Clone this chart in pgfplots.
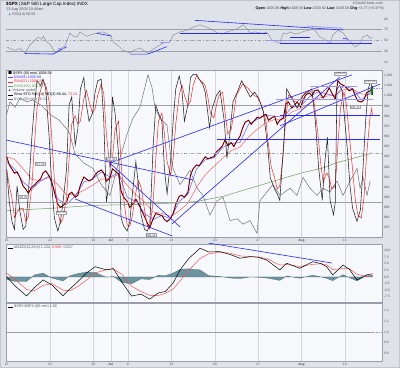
\documentclass[border=0pt]{standalone}
\usepackage{amssymb}
\usepackage{pgfplots}
\pgfplotsset{compat=1.18}
\usepgfplotslibrary{fillbetween}
\usepackage{fontspec}
\setmainfont{Liberation Sans}
\definecolor{outer}{HTML}{DFE2E8}
\definecolor{panel}{HTML}{F7F8FC}
\definecolor{gridc}{HTML}{D4D6DE}
\definecolor{frame}{HTML}{9A9EA8}
\definecolor{tickc}{HTML}{50545E}
\definecolor{rsigrey}{HTML}{8A8C98}
\definecolor{rsifill}{HTML}{6E9C92}
\definecolor{histc}{HTML}{6B94A0}
\definecolor{blueline}{HTML}{2626FF}
\definecolor{lightblue}{HTML}{9A9AF6}
\definecolor{emagreen}{HTML}{6E9E5E}
\definecolor{vixgrey}{HTML}{66666E}
\definecolor{stored}{HTML}{F02828}
\definecolor{levelc}{HTML}{9EA0A8}
\pgfplotsset{
  panelstyle/.style={scale only axis, width=376pt, xmin=-0.08, xmax=43.29,
    axis background/.style={fill=panel}, axis line style={frame, line width=0.6pt},
    xtick={0,5,10,12,14,19,24,29,34,39}, xticklabels={},
    xmajorgrids, major grid style={gridc, line width=0.4pt},
    ytick pos=right, yticklabel pos=right, tick style={draw=none},
    yticklabel style={font=\fontsize{3.3}{3.6}\selectfont, text=tickc, anchor=west, xshift=-1.5pt},
    xticklabel style={font=\fontsize{3.3}{3.6}\selectfont, text=tickc, yshift=1.2pt},
    /pgf/number format/assume math mode=true},
  ovl/.style={scale only axis, width=376pt, xmin=-0.08, xmax=43.29, hide axis},
  dates/.style={xticklabels={15,22,29,\textbf{Jul},6,13,20,27,\textbf{Aug},10}},
}
\newcommand{\lgf}{\fontsize{3.7}{4.2}\selectfont}
\pgfplotstableread{
x p
0 940
0.3 932
0.6 928
0.9 923.7
1.2 925
1.5 920
1.9 911
2.2 908
2.5 904
2.9 910
3.2 912
3.5 915
3.9 918
4.2 924
4.5 926
4.9 921
5.2 915
5.5 905
5.9 893
6.2 890
6.5 892
6.9 895
7.2 903
7.5 905
7.9 900
8.2 902
8.5 912
8.9 920
9.2 918
9.5 916
9.9 918
10.2 922
10.5 925
10.9 927
11.2 924
11.5 916
11.9 919
12.2 928
12.5 926
12.9 923
13.2 906
13.5 900
13.9 896
14.2 890
14.5 893
14.9 898
15.2 894
15.5 888
15.9 881
16.2 875
16.5 870
16.9 879
17.2 884
17.5 883
17.9 882
18.2 878
18.5 876
18.9 879
19.2 884
19.5 893
19.9 901
20.2 902
20.5 900
20.9 905
21.2 922
21.5 928
21.9 932
22.2 931
22.5 935
22.9 940
23.2 938
23.5 939
23.9 940
24.2 945
24.5 947
24.9 951
25.2 957
25.5 951
25.9 954
26.2 950
26.5 955
26.9 960
27.2 968
27.5 974
27.9 976
28.2 972
28.5 975
28.9 979
29.2 978
29.5 980
29.9 982
30.2 976
30.5 978
30.9 980
31.2 972
31.5 976
31.9 978
32.2 992
32.5 994
32.9 988
33.2 991
33.5 994
33.9 989
34.2 996
34.5 1001
34.9 1003
35.2 1000
35.5 1005
35.9 1006
36.2 1002
36.5 998
36.9 1003
37.2 1008
37.5 1003
37.9 997
38.2 1015
38.5 1012
38.9 1010
39.2 1008
39.5 1005
39.9 1007
40.2 1000
40.5 995
40.9 994
41.2 996
41.5 1003
41.9 1005
42.1 1007
42.2 1009.6
}\pricetab
\begin{document}
\begin{tikzpicture}[x=1pt,y=1pt]
\fill[outer] (0,0) rectangle (400,368);
\draw[frame!60, line width=0.8pt] (0.4,0.4) rectangle (399.6,367.6);
% header
\node[anchor=west, inner sep=0, font=\fontsize{4.6}{5}\selectfont] at (6,364) {\textbf{\$SPX} (S\&P 500 Large Cap Index) INDX};
\node[anchor=west, inner sep=0, font=\fontsize{3.8}{4.2}\selectfont, text=tickc] at (6,358) {13 Aug 2009 10:40am};
\node[anchor=east, inner sep=0, font=\fontsize{3.6}{4}\selectfont, text=tickc] at (383,365) {\textcopyright StockCharts.com};
\node[anchor=east, inner sep=0, font=\fontsize{3.7}{4.2}\selectfont] at (384,359) {\textbf{Open} {\color{tickc}1005.86} \textbf{High} {\color{tickc}1009.58} \textbf{Low} {\color{tickc}1000.82} \textbf{Last} {\color{tickc}1009.58} \textbf{Chg} {\color{tickc}+3.77 (+0.37\%)}};

% ================= RSI panel =================
\begin{axis}[panelstyle, at={(6pt,300pt)}, anchor=south west, height=56pt,
  ymin=-1.1, ymax=103, ytick={10,30,50,70,90}]
\addplot[levelc, line width=0.5pt] coordinates {(-0.08,70)(43.29,70)};
\addplot[levelc, line width=0.5pt] coordinates {(-0.08,30)(43.29,30)};
\addplot[levelc, line width=0.4pt, dash dot] coordinates {(-0.08,50)(43.29,50)};
\addplot[name path=h70, draw=none] coordinates {(-0.08,70)(43.29,70)};
\addplot[name path=h30, draw=none] coordinates {(-0.08,30)(43.29,30)};
\addplot[name path=rsi, rsigrey, line width=0.45pt] coordinates {
(0,38.4)(0.5,34)(0.96,32)(1.53,35)(2.11,27)(2.69,41.6)(3.26,51)(3.64,56)(4.04,52)(4.22,58)(4.61,48)(4.99,43)
(5.57,28)(6.1,33)(6.72,40)(7.3,64)(7.7,58)(8.1,56)(8.45,66)(9.2,58)(9.8,61)(10.4,64)(11.1,66)(11.9,60)(12.3,47)
(12.9,40)(13.4,32)(14.2,27)(14.8,33)(15.4,36)(16.3,26)(16.8,33)(17.3,38)(18.0,45)(18.8,47)(19.2,60)(20.0,66)
(20.8,69)(21.5,75)(22.3,79)(22.8,76)(23.2,74)(23.7,70)(24.3,64)(24.9,62)(25.4,66)(26.3,70)(26.8,74)(27.3,79)(27.7,72)
(28.1,64)(28.6,66)(29.0,65)(29.5,63)(30.0,66)(30.6,51)(31.0,48)(31.5,45)(31.9,64)(32.3,62)(32.7,66)(33.3,62)(33.8,64)
(34.5,68)(35.0,70)(35.3,73)(35.7,66)(36.1,57)(36.7,52)(37.3,45)(37.6,60)(38.2,69)(38.8,64)(39.4,51)(39.8,45)(40.2,38)
(40.8,45)(41.1,57)(41.6,60)(41.9,54)(42.2,56.5)};
\addplot[rsifill] fill between[of=rsi and h70, soft clip={domain y=70:103}];
\addplot[rsifill] fill between[of=rsi and h30, soft clip={domain y=-1:30}];
% annotations
\addplot[blueline, line width=0.6pt] coordinates {(2.11,25.8)(5.37,24.8)(6.92,38.4)};
\addplot[lightblue, line width=1pt] coordinates {(5.92,36)(6.72,36)};
\addplot[blueline, line width=0.6pt] coordinates {(10.38,63.3)(12.11,58.3)};
\addplot[blueline, line width=0.6pt] coordinates {(14.22,24.8)(16.3,24.8)(18.45,38.4)};
\addplot[lightblue, line width=1pt] coordinates {(17.68,45.9)(18.84,45.9)};
\addplot[blueline, line width=0.6pt] coordinates {(19.99,63.8)(30,63.8)};
\addplot[blueline, line width=0.6pt] coordinates {(21.7,87.5)(38.79,69.5)};
\addplot[lightblue, line width=0.8pt] coordinates {(34.6,76.9)(38.8,72.7)};
\addplot[blueline, line width=0.6pt] coordinates {(32.7,55.9)(35.0,55.9)};
\addplot[lightblue, line width=0.8pt] coordinates {(30.1,49.6)(42.1,49.6)};
\addplot[blueline, line width=0.6pt] coordinates {(31.5,44.7)(42.1,44.7)};
\addplot[blueline, line width=0.6pt] coordinates {(38.8,54)(39.4,52.2)};
\end{axis}
\node[anchor=west, inner sep=0, font=\lgf, text=tickc] at (8,353) {{\color{rsifill}$\blacktriangle$} RSI(14) 56.55};

% ================= Main panel =================
\begin{axis}[panelstyle, dates, at={(6pt,131pt)}, anchor=south west, height=167pt,
  ymin=860.8, ymax=1025.6, ytick={870,880,...,1020}]
\addplot[emagreen, line width=0.5pt] coordinates {
(0,887)(5,889)(10,892)(15,893)(20,894.5)(22,896)(25,901)(28.9,911)(32,919)(34,924)(36.5,929)(38,934)(40,938.5)(42.2,943.7)};
\addplot[stored!75, line width=0.5pt] coordinates {
(0,940)(0.9,937.6)(1.9,928)(2.9,917.7)(3.9,916.4)(4.9,919.6)(5.9,912.5)(6.9,902.5)(7.9,902.7)(8.9,906.8)(9.9,911.8)
(10.9,917.8)(11.9,918.9)(12.9,922.4)(13.9,911.9)(14.9,902.6)(15.9,895.4)(16.9,885.4)(17.9,884.2)(18.9,881.2)(19.9,886.5)
(20.9,894.1)(21.9,909.7)(22.9,922.1)(23.9,930.4)(24.9,938.5)(25.9,946.1)(26.9,949.5)(27.9,959.5)(28.9,967.1)(29.9,973.5)
(30.9,976.7)(31.9,977.4)(32.9,984.1)(33.9,987.5)(34.9,992.6)(35.9,997.7)(36.9,999.8)(37.9,1000.9)(38.9,1006.3)(39.9,1006.7)
(40.9,1001.9)(41.9,1001.5)(42.2,1002.6)};
\addplot[blue!65, line width=0.5pt] coordinates {
(0,935)(0.9,928)(1.9,915)(2.9,908)(3.9,916)(4.9,921)(5.9,898)(6.9,893)(7.9,901)(8.9,915)(9.9,918)
(10.9,925)(11.9,920)(12.9,924)(13.9,900)(14.9,896)(15.9,884)(16.9,878)(17.9,882)(18.9,879)(19.9,896)
(20.9,903)(21.9,928)(22.9,937)(23.9,939)(24.9,949)(25.9,953)(26.9,954)(27.9,972)(28.9,977)(29.9,981)
(30.9,980)(31.9,979)(32.9,989)(33.9,990)(34.9,999)(35.9,1004)(36.9,1002)(37.9,1000)(38.9,1010)(39.9,1007)
(40.9,996)(41.9,1003)(42.2,1006)};
\addplot[red!85!black, line width=0.9pt] table[x=x, y=p] {\pricetab};
\addplot[black, line width=0.3pt] table[x=x, y=p] {\pricetab};
\addplot[green!65!black, line width=1.6pt] coordinates {(42.15,1001)(42.15,1009)};
\end{axis}
% VIX overlay
\begin{axis}[ovl, at={(6pt,131pt)}, anchor=south west, height=167pt, ymin=22.89, ymax=32.17]
\addplot[vixgrey, line width=0.45pt] coordinates {
(0,29.7)(0.38,30.4)(0.96,30.1)(1.53,30.6)(2.31,30.4)(3.03,30.5)(4.0,30.2)(4.99,29.7)(6.0,29.4)(6.92,28.9)(7.3,28.6)(7.88,27.5)
(8.9,27.0)(9.95,26.7)(10.9,25.8)(11.91,25.2)(12.72,26.7)(13.88,28.6)(14.57,29.5)(15.37,30.1)(16.3,31.9)(16.76,31.2)(17.1,30.1)
(17.68,29.5)(18.49,29.1)(18.84,27.7)(19.18,26.7)(19.99,25.8)(20.6,26.2)
(21.14,26.6)(21.95,25.6)(22.64,25.2)(23.45,24.1)(24.26,24.9)(24.95,25.1)(25.76,23.8)(26.57,23.9)(27.26,23.6)(28.06,23.8)
(28.87,23.1)(29.21,24.9)(30.02,25.4)(30.71,25.8)(31.52,25.2)(32.68,25.6)(33.48,25.2)(34.18,26.2)(34.98,25.6)(35.79,25.2)
(36.48,25.6)(37.29,25.4)(38.1,26.0)(38.79,25.2)(39.6,26.0)(40.41,26.7)(40.76,25.6)(41.11,26.2)(41.57,25.2)(41.92,26.0)};
\end{axis}
% Stochastic overlay
\begin{axis}[ovl, at={(6pt,131pt)}, anchor=south west, height=167pt, ymin=-1.7, ymax=101.7]
\addplot[levelc, line width=0.5pt] coordinates {(-0.08,80)(43.29,80)};
\addplot[levelc, line width=0.5pt] coordinates {(-0.08,20)(43.29,20)};
\addplot[levelc, line width=0.4pt, dash dot] coordinates {(-0.08,50)(43.29,50)};
\addplot[stored, line width=0.5pt] coordinates {
(0,40)(0.3,30)(0.6,22.7)(0.9,10.3)(1.2,13.7)(1.5,16)(1.9,16)(2.2,7.7)(2.5,11)(2.9,30)
(3.2,55)(3.5,78.3)(3.9,89)(4.2,94.3)(4.5,92.7)(4.9,82)(5.2,60)(5.5,33.3)(5.9,14)(6.2,6.7)(6.5,10)(6.9,22.7)
(7.2,46.7)(7.5,68.3)(7.9,73.3)(8.2,68.3)(8.5,70)(8.9,84)(9.2,89)(9.5,82.3)(9.9,75)(10.2,77.7)(10.5,86)(10.9,93)
(11.2,87)(11.5,62)(11.9,41.7)(12.2,46.7)(12.5,65)(12.9,70)(13.2,45)(13.5,21.7)(13.9,5.7)(14.2,5)(14.5,11.7)(14.9,26)
(15.2,33.3)(15.5,29)(15.9,15)(16.2,5.7)(16.5,3.3)(16.9,20.7)(17.2,46.7)(17.5,70)(17.9,75)(18.2,61.7)(18.5,45)(18.9,36.7)
(19.2,46.7)(19.5,68.3)(19.9,86)(20.2,92.7)(20.5,86)(20.9,80)(21.2,82.3)(21.5,92)(21.9,98.3)(22.2,96)(22.5,94.7)(22.9,92)
(23.2,85)(23.5,75)(23.9,72)(24.2,80)(24.5,86)(24.9,88)(25.2,75)(25.5,62)(25.9,65)(26.2,75)(26.5,86)(26.9,90)
(27.2,93)(27.5,92)(27.9,90)(28.2,88)(28.5,86)(28.9,85)(29.2,82)(29.5,78)(29.9,70)(30.2,55)(30.5,42)(30.9,35)
(31.2,28)(31.5,30)(31.9,50)(32.2,72)(32.5,86)(32.9,85)(33.2,82)(33.5,82)(33.9,84)(34.2,86)(34.5,88)(34.9,89)
(35.2,88)(35.5,80)(35.9,62)(36.2,45)(36.5,32)(36.9,38)(37.2,35)(37.5,28)(37.9,30)(38.2,55)(38.5,78)(38.9,88)
(39.2,80)(39.5,62)(39.9,40)(40.2,22)(40.5,12)(40.9,10)(41.2,22)(41.5,48)(41.9,72)(42.1,78)(42.2,73.2)};
\addplot[black!85, line width=0.55pt] coordinates {
(0,40)(0.3,20)(0.6,8)(0.9,3)(1.2,30)(1.5,15)(1.9,3)(2.2,5)(2.5,25)(2.9,60)
(3.2,80)(3.5,95)(3.9,92)(4.2,96)(4.5,90)(4.9,60)(5.2,30)(5.5,10)(5.9,2)(6.2,8)(6.5,20)(6.9,40)
(7.2,80)(7.5,85)(7.9,55)(8.2,65)(8.5,90)(8.9,97)(9.2,80)(9.5,70)(9.9,75)(10.2,88)(10.5,95)(10.9,96)
(11.2,70)(11.5,20)(11.9,35)(12.2,85)(12.5,75)(12.9,50)(13.2,10)(13.5,5)(13.9,2)(14.2,8)(14.5,25)(14.9,45)
(15.2,30)(15.5,12)(15.9,3)(16.2,2)(16.5,5)(16.9,55)(17.2,80)(17.5,75)(17.9,70)(18.2,40)(18.5,25)(18.9,45)
(19.2,70)(19.5,90)(19.9,98)(20.2,90)(20.5,70)(20.9,80)(21.2,97)(21.5,99)(21.9,99)(22.2,96)(22.6,93)(22.9,88)
(23.2,75)(23.4,66)(23.7,78)(24.2,86)(24.6,89)(25.1,70)(25.4,47)(25.7,60)(26.1,82)(26.6,88)(27.1,95)
(27.6,90)(28.1,85)(28.6,88)(29.1,84)(29.6,76)(30.1,55)(30.4,35)(30.9,28)(31.2,25)(31.5,21)(32.0,60)(32.3,90)
(32.8,85)(33.5,78)(33.9,82)(34.2,86)(34.7,88)(35.2,90)(35.6,70)(36.0,40)(36.4,21)(36.7,45)(37.0,60)(37.3,21)(37.7,12)
(37.9,20)(38.1,90)(38.4,92)(38.7,89)(39.0,70)(39.3,52)(39.6,30)(39.9,16)(40.4,8)(40.8,15)(41.1,41)(41.4,70)(41.7,90)(42.0,95)(42.2,86.4)};
\end{axis}
% Annotation lines (price units)
\begin{axis}[ovl, at={(6pt,131pt)}, anchor=south west, height=167pt, ymin=860.8, ymax=1025.6]
\addplot[blueline, line width=0.6pt] coordinates {(-0.08,956.5)(21.5,917.1)};
\addplot[blueline, line width=0.6pt] coordinates {(11.9,933.8)(39.8,1020.7)};
\addplot[blueline, line width=0.6pt] coordinates {(11.9,933.8)(20.0,870.7)};
\addplot[blueline, line width=0.6pt] coordinates {(7.9,898.3)(19.1,861.8)};
\addplot[blueline, line width=0.6pt] coordinates {(19.07,873.8)(38.45,1018.9)};
\addplot[blueline, line width=0.6pt] coordinates {(31.52,970.5)(43.05,1011.7)};
\addplot[blueline, line width=0.7pt] coordinates {(31.52,980.9)(43.05,980.9)};
\addplot[blueline, line width=0.7pt] coordinates {(24.22,957.5)(43.05,957.5)};
\addplot[lightblue, line width=0.8pt] coordinates {(35.0,1009.5)(40.4,1009.5)};
\addplot[lightblue, line width=0.8pt] coordinates {(31.1,996.3)(42.25,996.3)};
\addplot[lightblue, line width=0.6pt, densely dotted] coordinates {(42.2,1007.5)(43.29,1007.5)};
\end{axis}
% main legend
\begin{scope}[every node/.style={anchor=west, inner sep=0, font=\lgf}]
\node at (8,295) {{\color{black}$\blacksquare$} \$SPX (60 min) 1009.58};
\node at (8,290.6) {{\color{blue!70}\rule[0.5pt]{5pt}{0.5pt}} {\color{blue!80}EMA(9) 1005.89}};
\node at (8,286.2) {{\color{stored}\rule[0.5pt]{5pt}{0.5pt}} {\color{stored}EMA(21) 1006.28}};
\node at (8,281.8) {{\color{emagreen}\rule[0.5pt]{5pt}{0.5pt}} {\color{emagreen}EMA(400) 946.23}};
\node at (8,277.4) {{\color{tickc}$\blacktriangle$} {\color{tickc}Volume undef}};
\node at (8,273) {{\color{black}\rule[0.5pt]{5pt}{0.5pt}} Slow STO \%K(14) \%D(3) 86.44, {\color{stored}73.24}};
\node at (8,268.6) {{\color{vixgrey}\rule[0.5pt]{5pt}{0.5pt}} {\color{vixgrey}\$VIX (60 min) 26.23}};
\end{scope}
\begin{scope}[every node/.style={draw=levelc, fill=white, inner sep=0.6pt, font=\fontsize{3}{3.3}\selectfont, text=tickc}]
\node at (40,204) {927.09};
\node at (111,209) {931.92};
\node at (23,171) {903.80};
\node at (61,155.5) {888.86};
\node at (151,133) {869.32};
\node at (340,294.5) {1018.00};
\node at (370,286.5) {1010.54};
\node at (355,261) {990.22};
\end{scope}

% ================= MACD panel =================
\begin{axis}[panelstyle, at={(6pt,66pt)}, anchor=south west, height=58pt,
  ymin=-9.47, ymax=12.5, ytick={-7.5,-5,-2.5,0,2.5,5,7.5,10},
  yticklabel style={/pgf/number format/.cd, fixed, fixed zerofill, precision=1}]
\addplot[fill=histc, draw=histc!70!black, line width=0.2pt] coordinates {
(0,-1.0)(1,-1.7)(2.3,-1.7)(3.2,0.8)(4.2,1.5)(5.2,-0.4)(6.5,-1.5)(7.3,0.5)(8.2,1.3)(9.2,1.9)(10.2,1.7)(11.5,-0.1)(12.3,0.2)
(13.3,-2.1)(14.4,-2.6)(15.5,-0.7)(16.5,-1.0)(17.5,0.7)(18.3,0.5)(19.2,1.5)(20,2.9)(21,3.1)(22.3,2.7)(23.3,0.5)(24.6,0.2)(25.8,-0.4)
(26.9,-0.6)(28.1,0)(29,-0.1)(30,-0.4)(31.5,-1.3)(32.3,0.4)(33.8,-0.5)(35.3,0.7)(36.3,0)(36.9,-0.5)(37.6,-1.4)(38.8,0.9)(39.5,-0.2)
(40.4,-1.5)(41.5,0.5)(42.2,0.6)} \closedcycle;
\addplot[stored!80, line width=0.5pt] coordinates {
(0,1.5)(1,-1)(2.3,-4.8)(3.2,-5.2)(4.2,-3.2)(5.2,-2.5)(6.5,-5.0)(7.3,-5.2)(8.2,-3.6)(9.2,-1.2)(10.2,1.5)(11.5,2.8)(12.3,3.0)
(13.3,1.0)(14.4,-3.5)(15.5,-5.5)(16.5,-7.0)(17.5,-7.0)(18.3,-6.2)(19.2,-4.5)(20,-1.5)(21,2.5)(22.3,7)(23.3,8.8)(24.6,9.4)(25.8,9.0)
(26.9,8.0)(28.1,7.7)(29,7.6)(30,7.0)(31.5,4.5)(32.3,4.7)(33.8,4.0)(35.3,4.8)(36.3,5.0)(36.9,4.6)(37.6,2.8)(38.8,3.2)(39.5,3.2)
(40.4,1.0)(41.5,0.2)(42.2,0.6)};
\addplot[black, line width=0.5pt] coordinates {
(0,0.1)(1,-3.5)(2.3,-7.2)(3.2,-4)(4.2,-1.1)(5.2,-3)(6.5,-7.1)(7.3,-4.5)(8.2,-1.8)(9.2,1.5)(10.2,3.9)(11.5,2.7)(12.3,3.2)
(13.3,-2)(14.4,-7.2)(15.5,-6.5)(16.5,-8.4)(17.5,-6)(18.3,-5.5)(19.2,-2.3)(20,2.7)(21,7)(22.3,10.9)(23.3,9.5)(24.6,9.6)(25.8,8.5)
(26.9,7.1)(28.1,7.7)(29,7.5)(30,6.4)(31.5,2.7)(32.3,5.2)(33.8,3.3)(35.3,5.8)(36.3,5)(36.9,3.9)(37.6,0.8)(38.8,4.5)(39.5,3)
(40.4,-1.1)(41.5,0.8)(42.2,1.2)};
\addplot[blueline, line width=0.6pt] coordinates {(23.2,12.9)(37.5,5.3)};
\end{axis}
\node[anchor=west, inner sep=0, font=\lgf, text=tickc] at (8,120) {{\color{black}\rule[0.5pt]{5pt}{0.5pt}} MACD(12,26,9) 1.222, {\color{stored}0.585}, 0.637};

% ================= Ratio panel =================
\begin{axis}[panelstyle, dates, at={(6pt,7pt)}, anchor=south west, height=58pt,
  ymin=0.45, ymax=1.546, ytick={0.6,0.8,1.0,1.2,1.4},
  yticklabel style={/pgf/number format/.cd, fixed, fixed zerofill, precision=1}]
\addplot[levelc, line width=0.7pt] coordinates {(-0.08,1)(42.2,1)};
\addplot[lightblue, line width=0.6pt, densely dotted] coordinates {(42.2,1)(43.29,1)};
\end{axis}
\node[anchor=west, inner sep=0, font=\lgf, text=tickc] at (8,61) {{\color{black}\rule[0.5pt]{5pt}{0.5pt}} \$SPX:\$SPX (60 min) 1.00};
\end{tikzpicture}
\end{document}
